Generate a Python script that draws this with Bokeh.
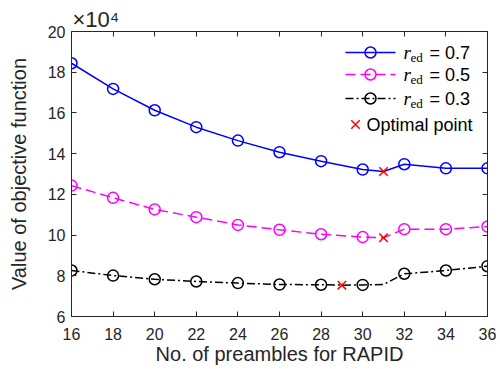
from bokeh.plotting import figure
from bokeh.models import Range1d, LinearAxis, FixedTicker, Label
from bokeh.embed import file_html
from bokeh.resources import INLINE

# ---- data (objective values in units of 1e4) ----
x_pre = [16, 18, 20, 22, 24, 26, 28, 30, 32, 34, 36]
obj_r07 = [18.44, 17.18, 16.13, 15.30, 14.64, 14.07, 13.63, 13.22, 13.48, 13.28, 13.28]
obj_r05 = [12.43, 11.83, 11.26, 10.88, 10.50, 10.26, 10.04, 9.90, 10.29, 10.29, 10.42]
obj_r03 = [8.26, 8.01, 7.83, 7.72, 7.64, 7.57, 7.56, 7.55, 8.10, 8.26, 8.47]

# curves also pass through the odd-valued evaluated points
line_x_r07 = [16, 18, 20, 22, 24, 26, 28, 30, 31, 32, 34, 36]
line_r07 = [18.44, 17.18, 16.13, 15.30, 14.64, 14.07, 13.63, 13.22, 13.12, 13.48, 13.28, 13.28]
line_x_r05 = [16, 18, 20, 22, 24, 26, 28, 30, 31, 32, 34, 36]
line_r05 = [12.43, 11.83, 11.26, 10.88, 10.50, 10.26, 10.04, 9.90, 9.87, 10.29, 10.29, 10.42]
line_x_r03 = [16, 18, 20, 22, 24, 26, 28, 29, 30, 31, 32, 34, 36]
line_r03 = [8.26, 8.01, 7.83, 7.72, 7.64, 7.57, 7.56, 7.54, 7.55, 7.57, 8.10, 8.26, 8.47]

opt_x = [31, 31, 29]
opt_y = [13.12, 9.87, 7.54]

x_ticks = [16, 18, 20, 22, 24, 26, 28, 30, 32, 34, 36]
y_ticks = [6, 8, 10, 12, 14, 16, 18, 20]
legend_values = ["0.7", "0.5", "0.3"]

AX = "#262626"
W, H = 500, 369
BL, BR, BT, BB = 71, 13, 31, 53
FW, FH = W - BL - BR, H - BT - BB

p = figure(width=W, height=H, title="\u00d710\u2074",
           x_range=Range1d(16, 36), y_range=Range1d(6, 20),
           output_backend="svg", toolbar_location=None,
           min_border_left=BL, min_border_right=BR,
           min_border_top=BT, min_border_bottom=BB,
           background_fill_color="white", border_fill_color="white")
p.outline_line_color = None
p.xgrid.visible = False
p.ygrid.visible = False

# exponent marker of the y axis, drawn as the plot title at the top-left
p.title.align = "left"
p.title.offset = 1
p.title.standoff = 0
p.title.text_font = "Liberation Sans"
p.title.text_font_size = "22px"
p.title.text_font_style = "normal"
p.title.text_color = AX

# pixel-space ranges for the hand-built legend
p.extra_x_ranges["px"] = Range1d(0, FW)
p.extra_y_ranges["px"] = Range1d(0, FH)


def style_axis(ax, labels=True):
    ax.axis_line_color = AX
    ax.axis_line_width = 1
    ax.major_tick_line_color = AX
    ax.major_tick_in = 5
    ax.major_tick_out = 0
    ax.minor_tick_line_color = None
    ax.major_label_text_color = AX
    ax.major_label_text_font = "Liberation Sans"
    ax.major_label_text_font_size = "16px" if labels else "0px"
    ax.axis_label_text_font = "Liberation Sans"
    ax.axis_label_text_font_size = "20px"
    ax.axis_label_text_font_style = "normal"
    ax.axis_label_text_color = AX


xa = p.xaxis[0]
ya = p.yaxis[0]
xa.ticker = FixedTicker(ticks=x_ticks)
ya.ticker = FixedTicker(ticks=y_ticks)
style_axis(xa)
style_axis(ya)
xa.axis_label = "No. of preambles for RAPID"
ya.axis_label = "Value of objective function"
xa.major_label_standoff = 11
xa.axis_label_standoff = 0
ya.major_label_standoff = 6
ya.axis_label_standoff = 15

top = LinearAxis(ticker=FixedTicker(ticks=x_ticks),
                 major_label_overrides={t: "" for t in x_ticks})
right = LinearAxis(ticker=FixedTicker(ticks=y_ticks),
                   major_label_overrides={t: "" for t in y_ticks})
style_axis(top, labels=False)
style_axis(right, labels=False)
top.major_label_standoff = 0
right.major_label_standoff = 0
p.add_layout(top, "above")
p.add_layout(right, "right")

colors = ["#0000FF", "#FF00FF", "#000000"]
dashes = ["solid", "10 5", "8 3 2 3"]
lw = 1.5
series = [(line_x_r07, line_r07, obj_r07), (line_x_r05, line_r05, obj_r05),
          (line_x_r03, line_r03, obj_r03)]
for (lx, ly, my), c, d in zip(series, colors, dashes):
    p.line(lx, ly, line_color=c, line_width=lw, line_dash=d)
    p.scatter(x_pre, my, marker="circle", size=11, fill_color=None,
              line_color=c, line_width=lw)

p.scatter(opt_x, opt_y, marker="x", size=12, line_color="#FF0000", line_width=1.5)

# ---- hand-built legend (pixel coordinates inside the frame) ----
row_y = [264, 242, 218]
for ry, c, d, val in zip(row_y, colors, dashes, legend_values):
    p.line([274, 324], [ry, ry], line_color=c, line_width=lw, line_dash=d,
           x_range_name="px", y_range_name="px")
    p.scatter([299], [ry], marker="circle", size=11, fill_color=None,
              line_color=c, line_width=lw, x_range_name="px", y_range_name="px")
    p.add_layout(Label(x=332, y=ry, text="r", x_range_name="px", y_range_name="px",
                       text_font="Liberation Serif", text_font_style="italic",
                       text_font_size="19px", text_baseline="middle", text_color="#000000"))
    p.add_layout(Label(x=339, y=ry - 5, text="ed", x_range_name="px", y_range_name="px",
                       text_font="Liberation Serif", text_font_size="13px",
                       text_baseline="middle", text_color="#000000"))
    p.add_layout(Label(x=358, y=ry, text="= " + val, x_range_name="px", y_range_name="px",
                       text_font="Liberation Sans", text_font_size="18px",
                       text_baseline="middle", text_color="#000000"))

p.scatter([284], [192], marker="x", size=12, line_color="#FF0000", line_width=1.5,
          x_range_name="px", y_range_name="px")
p.add_layout(Label(x=295, y=192, text="Optimal point", x_range_name="px", y_range_name="px",
                   text_font="Liberation Sans", text_font_size="18px",
                   text_baseline="middle", text_color="#000000"))

open("out.html", "w").write(file_html(p, INLINE))
